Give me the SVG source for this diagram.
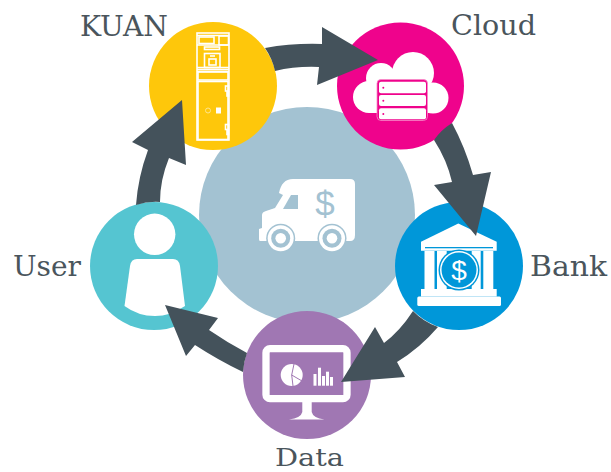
<svg xmlns="http://www.w3.org/2000/svg" width="611" height="472" viewBox="0 0 611 472">
<style>
.lbl{font-family:"DejaVu Serif","Liberation Serif",serif;font-size:27px;fill:#4a555c}
.w{fill:#fff}
.ln{fill:none;stroke:#fff;stroke-width:1.600}
.arrow{fill:#44525b}
.pk{fill:#ef038c}.bl{fill:#0097d9}.pu{fill:#a077b3}.sk{fill:#a3c2d2}
</style>
<rect width="611" height="472" fill="#fff"/>
<g id="hub">
<circle cx="307" cy="215" r="108" class="sk"/>
<path class="w" d="M279 193C281 184 285 179 293 179H350Q355 179 355 184V235Q355 241 350 241H260Q259 241 259 239V229L262 228V215Q262 212 266 211L275 208L283 195Z"/>
<path class="sk" d="M291 195H298V209H283Z"/>
<circle cx="280.700" cy="238.300" r="14.500" class="sk"/><circle cx="280.700" cy="238.300" r="13" class="w"/><circle cx="280.700" cy="238.300" r="9.500" class="sk"/><circle cx="280.700" cy="238.300" r="5.300" class="w"/>
<circle cx="332" cy="238.300" r="14.500" class="sk"/><circle cx="332" cy="238.300" r="13" class="w"/><circle cx="332" cy="238.300" r="9.500" class="sk"/><circle cx="332" cy="238.300" r="5.300" class="w"/>
<text x="325" y="216" text-anchor="middle" font-family="Liberation Sans,sans-serif" font-size="35" class="sk">$</text>
</g>
<g id="n-kuan">
<circle cx="213" cy="86" r="64" fill="#fec70b"/>
<g class="ln">
<rect x="197" y="33" width="32" height="107"/><path d="M197 35.500H229M197 45H229M197 67.500H229M197 69.500H229M197 71.500H229"/>
<rect x="199" y="37" width="15" height="6.500"/><rect x="219" y="36" width="9.500" height="9"/>
<rect x="204.500" y="47" width="15" height="2.500"/><rect x="204.500" y="53.500" width="15.500" height="14"/><rect x="209" y="59" width="7" height="6"/><path d="M210 56H215"/>
<rect x="198" y="72" width="30" height="8"/><rect x="198" y="81.500" width="30" height="58"/>
<rect x="225.500" y="86" width="3" height="5"/><rect x="227" y="92" width="1.500" height="4"/><rect x="225.500" y="124.500" width="3" height="5"/><rect x="227" y="130.500" width="1.500" height="4"/>
</g>
<circle cx="208" cy="110.500" r="2.500" fill="none" stroke="#ffe58a"/><rect x="216" y="107.500" width="5" height="6" class="w"/>
</g>
<g id="n-cloud">
<circle cx="400.500" cy="86" r="63.500" class="pk"/>
<g class="w"><circle cx="369" cy="97" r="16"/><circle cx="381" cy="78" r="15"/><circle cx="413" cy="73" r="21"/><circle cx="433" cy="98" r="15.500"/><rect x="369" y="85" width="64" height="28"/></g>
<rect x="377" y="79.500" width="50.500" height="41" rx="4" class="pk" stroke="#f88cc9" stroke-width=".8"/>
<g class="w"><rect x="379" y="81.700" width="47" height="11.500" rx="2"/><rect x="379" y="95" width="47" height="11" rx="2"/><rect x="379" y="108.300" width="47" height="11" rx="2"/></g>
<g class="pk"><circle cx="383.300" cy="87.700" r="1"/><circle cx="383.300" cy="100.700" r="1"/><circle cx="383.300" cy="114" r="1"/></g>
</g>
<g id="n-bank">
<circle cx="459" cy="266" r="64" class="bl"/>
<path class="w" d="M458.300 223.500L421 241.700V250.700H496.700V241.700Z"/>
<rect x="425" y="247" width="68" height="1.300" class="bl"/>
<g class="w"><rect x="424.500" y="251" width="10" height="38"/><rect x="437" y="251" width="9.700" height="38"/><rect x="471.700" y="251" width="9" height="38"/><rect x="483.300" y="251" width="10" height="38"/><rect x="421" y="289" width="75.700" height="7.500"/><rect x="417.300" y="296.500" width="83.700" height="9.500" rx="1.500"/></g>
<circle cx="459" cy="270" r="20.500" class="bl"/><circle cx="459" cy="270" r="19" class="w"/><circle cx="459" cy="270" r="17.500" class="bl"/>
<text x="459" y="280" text-anchor="middle" font-family="Liberation Sans,sans-serif" font-size="28" fill="#fff">$</text>
</g>
<g id="n-data">
<circle cx="307" cy="375" r="64" class="pu"/>
<rect x="266" y="348.700" width="81" height="50" rx="4" fill="none" stroke="#fff" stroke-width="7.300"/>
<path class="w" d="M302.300 402H311.700V412Q313 418 324.500 419.500H289Q301 418 302.300 412Z"/>
<circle cx="291.700" cy="375" r="11" class="w"/>
<path d="M291.700 375L294 364M291.700 375L302 381M291.700 375L293 386" stroke="#a077b3" stroke-width="1" fill="none"/>
<g class="w"><rect x="313.500" y="374" width="3" height="11.700"/><rect x="318" y="367.700" width="3" height="18"/><rect x="322" y="376" width="3" height="9.700"/><rect x="326" y="371.700" width="3" height="14"/><rect x="330" y="377" width="3" height="8.700"/></g>
</g>
<g id="n-user">
<circle cx="154" cy="266" r="64" fill="#55c5d1"/>
<circle cx="154.700" cy="234.300" r="20.700" class="w"/>
<path class="w" d="M137 259H173Q179 259 180 266L185 306Q170 316 155 316Q138 316 124.500 306L130 266Q131 259 137 259Z"/>
</g>
<g id="connectors" class="arrow">
<path d="M265 48Q293 43 322 44L322 27L378 60L317 85L319 67Q296 66 275 71A64 64 0 0 0 265 48Z"/>
<path d="M452 123Q465 147 473 175L491 172L476 236L434 185L452 182Q447 160 434 140A63.500 63.500 0 0 1 452 123Z"/>
<path d="M438 327Q420 348 397 362L405 377L341 382L375 327L384 343Q400 331 413 311A64 64 0 0 0 438 327Z"/>
<path d="M243 372Q218 360 195 345L186 356L165 305L218 318L209 330Q228 343 247 353A64 64 0 0 0 243 372Z"/>
<path d="M136 205Q138 177 148 150L132 142L182 100L186 165L169 158Q160 180 160 202A64 64 0 0 0 136 205Z"/>
</g>
<g id="labels">
<text class="lbl" x="80" y="36" textLength="88" lengthAdjust="spacingAndGlyphs">KUAN</text>
<text class="lbl" x="451" y="35" textLength="85" lengthAdjust="spacingAndGlyphs">Cloud</text>
<text class="lbl" x="530" y="276" textLength="77" lengthAdjust="spacingAndGlyphs">Bank</text>
<text class="lbl" x="13" y="276" textLength="68" lengthAdjust="spacingAndGlyphs">User</text>
<text class="lbl" x="275" y="466" style="font-size:25px" textLength="69" lengthAdjust="spacingAndGlyphs">Data</text>
</g>
</svg>
